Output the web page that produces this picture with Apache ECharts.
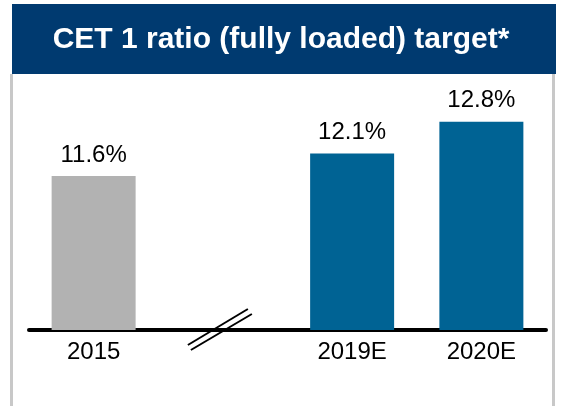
<!DOCTYPE html>
<html>
<head>
    <meta charset="utf-8" />
    <title>CET 1 ratio (fully loaded) target</title>
    <script type="text/javascript" src="https://cdn.jsdelivr.net/npm/echarts@6/dist/echarts.min.js"></script>
    <style>
        html, body {
            margin: 0;
            height: 100%;
            background: #fff;
        }
    </style>
</head>
<body>
    <div id="main" style="width: 562px;height: 406px;"></div>
    <script type="text/javascript">
        // data
        var titleText = 'CET 1 ratio (fully loaded) target*';
        var categories = ['2015', '', '2019E', '2020E'];
        var ratios = [11.6, null, 12.1, 12.8];
        var barColors = ['#b2b2b2', null, '#006394', '#006394'];

        var font = 'Liberation Sans, Arial, sans-serif';

        var myChart = echarts.init(document.getElementById('main'));

        // static decorations: title banner and panel border
        var frame = [
            { type: 'rect', z: -10, shape: { x: 12, y: 4, width: 544, height: 70 }, style: { fill: '#003a70' } },
            { type: 'line', z: -10, shape: { x1: 11.5, y1: 74, x2: 11.5, y2: 406 }, style: { stroke: '#c8c8c8', lineWidth: 3 } },
            { type: 'line', z: -10, shape: { x1: 553.5, y1: 74, x2: 553.5, y2: 406 }, style: { stroke: '#c8c8c8', lineWidth: 3 } }
        ];

        var option = {
            backgroundColor: '#fff',
            animation: false,
            title: {
                text: titleText,
                left: 'center',
                top: 20,
                textStyle: { color: '#fff', fontSize: 30, fontWeight: 'bold', fontFamily: font }
            },
            grid: { left: 29, right: 16, top: 90, bottom: 76 },
            xAxis: {
                type: 'category',
                data: categories,
                axisLine: { lineStyle: { color: '#000', width: 4 } },
                axisTick: { show: false },
                axisLabel: { color: '#000', fontSize: 24, fontFamily: font, margin: 10 }
            },
            yAxis: {
                type: 'value',
                min: 8.2,
                max: 13.5,
                show: false,
                splitLine: { show: false }
            },
            series: [{
                type: 'bar',
                barWidth: 84,
                data: ratios.map(function (v, i) {
                    return { value: v, itemStyle: { color: barColors[i] } };
                }),
                label: {
                    show: true,
                    position: 'top',
                    distance: 9,
                    color: '#000',
                    fontSize: 24,
                    fontFamily: font,
                    formatter: function (p) { return p.value == null ? '' : p.value.toFixed(1) + '%'; }
                }
            }],
            graphic: frame
        };

        myChart.setOption(option);

        // axis break mark, placed on the empty category
        var cx = myChart.convertToPixel({ xAxisIndex: 0 }, 1) - 2;
        var ay = 406 - 76;
        myChart.setOption({
            graphic: frame.concat([
                { type: 'line', z: 100, shape: { x1: cx - 33, y1: ay + 15, x2: cx + 27, y2: ay - 21 }, style: { stroke: '#000', lineWidth: 2 } },
                { type: 'line', z: 100, shape: { x1: cx - 30, y1: ay + 20, x2: cx + 31, y2: ay - 16 }, style: { stroke: '#000', lineWidth: 2 } }
            ])
        });
    </script>
</body>
</html>
